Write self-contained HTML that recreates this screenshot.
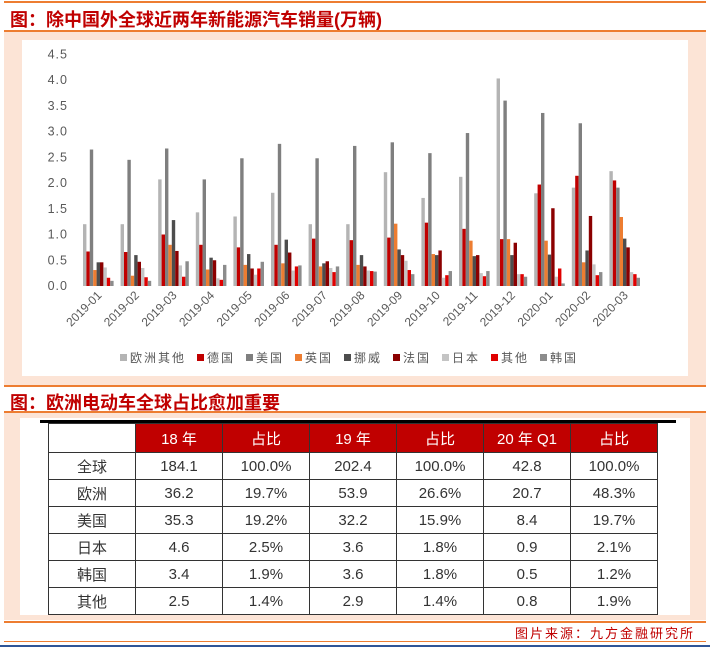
<!DOCTYPE html>
<html><head><meta charset="utf-8">
<style>
body{margin:0;width:710px;height:647px;position:relative;background:#fff;font-family:"Liberation Sans","Noto Sans CJK SC",sans-serif;overflow:hidden}
.abs{position:absolute}
.hl{position:absolute;left:4px;width:702px;height:2px;background:#ed7d31}
.ttl{position:absolute;left:10px;color:#c00000;font-weight:bold;font-size:18px;font-family:"Liberation Sans","Noto Sans CJK SC",sans-serif;white-space:nowrap}
table{border-collapse:collapse;position:absolute;left:48px;top:423px;font-size:15px;color:#333}
td{border:1px solid #333;width:86px;height:26px;text-align:center;padding:0}
th{background:#c00000;color:#fff;font-weight:normal;border:1px solid #333;height:26px;font-size:15px}
</style></head><body>
<div class="hl" style="top:1px"></div>
<div class="ttl" style="top:6px">图：除中国外全球近两年新能源汽车销量(万辆)</div>
<div class="hl" style="top:30px"></div>
<div class="abs" style="left:4px;top:32px;width:702px;height:354px;background:#fce4d6"></div>
<div class="abs" style="left:22px;top:40px;width:666px;height:336px;background:#fff"></div>
<svg class="abs" style="left:0;top:0" width="710" height="400" id="chart"></svg>
<div class="hl" style="top:385px"></div>
<div class="ttl" style="top:389px">图：欧洲电动车全球占比愈加重要</div>
<div class="hl" style="top:411px"></div>
<div class="abs" style="left:4px;top:413px;width:702px;height:207px;background:#fce4d6"></div>
<div class="abs" style="left:20px;top:418px;width:670px;height:197px;background:#fff"></div>
<div class="abs" style="left:40px;top:420px;width:636px;height:3px;background:#000"></div>
<table>
<tr><td style="background:#fff"></td><th>18 年</th><th>占比</th><th>19 年</th><th>占比</th><th>20 年 Q1</th><th>占比</th></tr>
<tr><td>全球</td><td>184.1</td><td>100.0%</td><td>202.4</td><td>100.0%</td><td>42.8</td><td>100.0%</td></tr>
<tr><td>欧洲</td><td>36.2</td><td>19.7%</td><td>53.9</td><td>26.6%</td><td>20.7</td><td>48.3%</td></tr>
<tr><td>美国</td><td>35.3</td><td>19.2%</td><td>32.2</td><td>15.9%</td><td>8.4</td><td>19.7%</td></tr>
<tr><td>日本</td><td>4.6</td><td>2.5%</td><td>3.6</td><td>1.8%</td><td>0.9</td><td>2.1%</td></tr>
<tr><td>韩国</td><td>3.4</td><td>1.9%</td><td>3.6</td><td>1.8%</td><td>0.5</td><td>1.2%</td></tr>
<tr><td>其他</td><td>2.5</td><td>1.4%</td><td>2.9</td><td>1.4%</td><td>0.8</td><td>1.9%</td></tr>
</table>
<div class="hl" style="top:621px"></div>
<div class="abs" style="right:15px;top:623px;color:#c00000;font-size:13px;letter-spacing:2px">图片来源：九方金融研究所</div>
<div class="hl" style="top:641px;height:1px"></div>
<div class="abs" style="left:0;top:645px;width:710px;height:2px;background:#2f5597"></div>
<script>
const categories=["2019-01","2019-02","2019-03","2019-04","2019-05","2019-06","2019-07","2019-08","2019-09","2019-10","2019-11","2019-12","2020-01","2020-02","2020-03"];
const seriesNames=["欧洲其他","德国","美国","英国","挪威","法国","日本","其他","韩国"];
const seriesColors=["#b4b4b4","#c00000","#7f7f7f","#ed7d31","#4d4d4d","#8b0000","#c4c4c4","#e00000","#8c8c8c"];
const euOther=[1.2,1.2,2.07,1.43,1.35,1.81,1.2,1.2,2.21,1.71,2.12,4.03,1.8,1.91,2.23];
const germany=[0.67,0.66,1.0,0.8,0.75,0.8,0.92,0.89,0.94,1.23,1.11,0.91,1.97,2.14,2.05];
const usa=[2.65,2.45,2.67,2.07,2.48,2.76,2.48,2.72,2.79,2.58,2.97,3.6,3.36,3.16,1.91];
const uk=[0.31,0.2,0.8,0.32,0.41,0.44,0.38,0.41,1.21,0.62,0.88,0.91,0.88,0.46,1.34];
const norway=[0.46,0.6,1.28,0.55,0.62,0.9,0.44,0.6,0.71,0.6,0.58,0.6,0.61,0.69,0.92];
const france=[0.46,0.47,0.68,0.5,0.34,0.65,0.48,0.38,0.6,0.69,0.6,0.84,1.51,1.36,0.75];
const japan=[0.36,0.35,0.4,0.15,0.22,0.3,0.35,0.3,0.49,0.16,0.25,0.23,0.18,0.42,0.27];
const other=[0.16,0.17,0.18,0.12,0.34,0.38,0.27,0.29,0.31,0.21,0.19,0.23,0.34,0.21,0.23];
const korea=[0.1,0.1,0.48,0.41,0.47,0.4,0.38,0.28,0.23,0.29,0.29,0.18,0.05,0.27,0.16];
const yTicks=[0,0.5,1,1.5,2,2.5,3,3.5,4,4.5];
const allSeries=[euOther,germany,usa,uk,norway,france,japan,other,korea];
const svg=document.getElementById('chart');
const NS='http://www.w3.org/2000/svg';
const y0=286,unit=51.5,gx0=83,gstep=37.6,bw=3.4;
const yScale=v=>y0-v*unit;
const xScale=(i,s)=>gx0+i*gstep+s*bw;
function mk(tag,attrs){const e=document.createElementNS(NS,tag);for(const k in attrs)e.setAttribute(k,attrs[k]);svg.appendChild(e);return e;}
yTicks.forEach(t=>{
 const e=mk('text',{x:68,y:yScale(t)+4,'text-anchor':'end','font-size':12.5,fill:'#595959','letter-spacing':'1','font-family':'Liberation Sans, sans-serif'});
 
 
 e.textContent=t.toFixed(1);
});
allSeries.forEach((arr,s)=>{
 arr.forEach((v,i)=>{
  const r=mk('rect',{x:xScale(i,s),y:yScale(v),width:bw,height:v*unit,fill:seriesColors[s]});
  
  
 });
});
categories.forEach((c,i)=>{
 const cx=xScale(i,4.5)+4,cy=296;
 const e=mk('text',{x:cx,y:cy,'text-anchor':'end','font-size':12,fill:'#595959','font-family':'Liberation Sans, sans-serif',transform:'rotate(-45 '+cx+' '+cy+')'});
 
 
 e.textContent=c;
});
let lx=120;
seriesNames.forEach((n,s)=>{
 const r=mk('rect',{x:lx,y:354,width:7,height:7,fill:seriesColors[s]});
 
 
 const t=mk('text',{x:lx+10,y:362,'font-size':12,fill:'#595959','letter-spacing':'2','font-family':'Liberation Sans, Noto Sans CJK SC, sans-serif'});
 
 
 t.textContent=n;
 lx+=21+n.length*14;
});
</script>
</body></html>
